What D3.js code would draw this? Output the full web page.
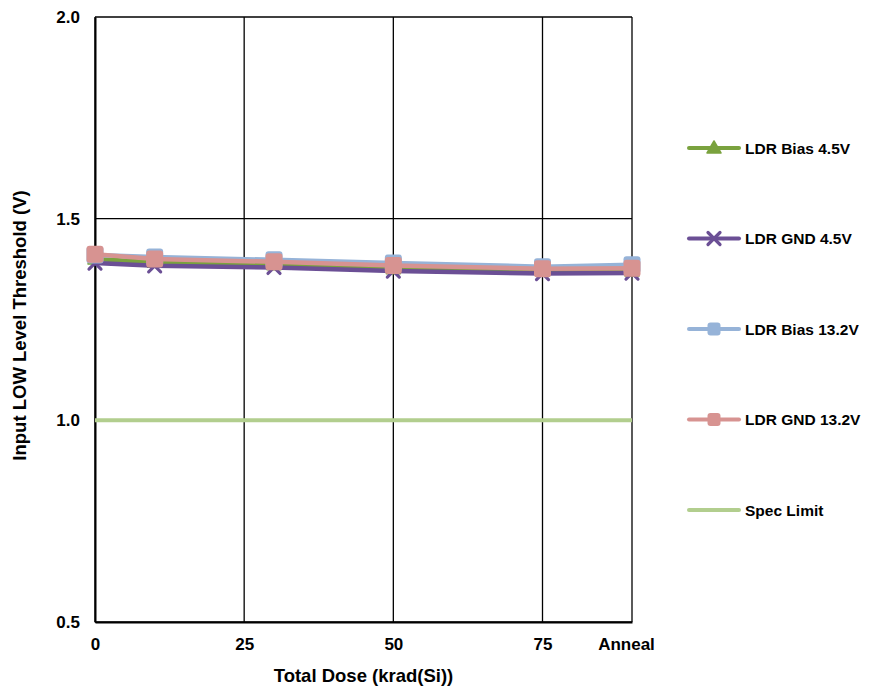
<!DOCTYPE html>
<html><head><meta charset="utf-8">
<script src="https://cdn.jsdelivr.net/npm/d3@7"></script>
<style>body{margin:0;background:#fff}svg{display:block}text{font-family:Arial,"Liberation Sans",sans-serif;font-weight:bold}</style>
</head><body>
<svg id="c" width="888" height="688"></svg>
<script>
const doses = [0, 10, 30, 50, 75, 90];
const xTickValues = [0, 25, 50, 75, 90];
const xTickLabels = ["0", "25", "50", "75", "Anneal"];
const yTickValues = [0.5, 1.0, 1.5, 2.0];
const biasLow45 = [1.400, 1.392, 1.386, 1.376, 1.370, 1.370];
const gndLow45 = [1.390, 1.383, 1.379, 1.370, 1.364, 1.365];
const biasLow132 = [1.410, 1.405, 1.398, 1.390, 1.381, 1.386];
const gndLow132 = [1.412, 1.400, 1.393, 1.384, 1.376, 1.377];
const specLimit = [1.0, 1.0];
const specX = [0, 90];

const series = [
  {name: "LDR Bias 4.5V", values: biasLow45, color: "#7aa23e", marker: "tri"},
  {name: "LDR GND 4.5V", values: gndLow45, color: "#6b4f95", marker: "x"},
  {name: "LDR Bias 13.2V", values: biasLow132, color: "#96b3d8", marker: "sq"},
  {name: "LDR GND 13.2V", values: gndLow132, color: "#d79391", marker: "sq"}
];
const specColor = "#b2ce8e";

const svg = d3.select("#c");
const L = 95, R = 632, T = 17, B = 622;
const x = d3.scaleLinear().domain([0, 90]).range([L, R]);
const y = d3.scaleLinear().domain([0.5, 2.0]).range([B, T]);

// gridlines
svg.append("g").selectAll("line").data(yTickValues).join("line")
  .attr("x1", L).attr("x2", R).attr("y1", d => y(d)).attr("y2", d => y(d))
  .attr("stroke", "#000").attr("stroke-width", 1.3);
svg.append("g").selectAll("line").data(xTickValues).join("line")
  .attr("x1", d => x(d)).attr("x2", d => x(d)).attr("y1", T).attr("y2", B)
  .attr("stroke", "#000").attr("stroke-width", 1.3);

// axes
const yAxis = d3.axisLeft(y).tickValues(yTickValues).tickFormat(d3.format(".1f")).tickSize(0).tickPadding(15);
const gy = svg.append("g").attr("transform", `translate(${L},0)`).call(yAxis);
gy.select(".domain").attr("stroke", "#000").attr("stroke-width", 2);
gy.selectAll("text").attr("font-size", 17).attr("fill", "#000").style("font-weight", "bold");

const xAxis = d3.axisBottom(x).tickValues(xTickValues).tickFormat((d, i) => xTickLabels[i]).tickSize(0).tickPadding(16);
const gx = svg.append("g").attr("transform", `translate(0,${B})`).call(xAxis);
gx.select(".domain").attr("stroke", "#000").attr("stroke-width", 2);
gx.selectAll("text").attr("font-size", 17).attr("fill", "#000").style("font-weight", "bold")
  .attr("dx", (d, i) => i === xTickLabels.length - 1 ? -6 : 0);

// axis titles
svg.append("text").attr("x", (L + R) / 2).attr("y", 682).attr("text-anchor", "middle")
  .attr("font-size", 18.5).text("Total Dose (krad(Si))");
svg.append("text").attr("transform", `translate(26,${(T + B) / 2 + 6}) rotate(-90)`).attr("text-anchor", "middle")
  .attr("font-size", 18.5).text("Input LOW Level Threshold (V)");

// spec limit
svg.append("path").datum(specX.map((d, i) => [d, specLimit[i]]))
  .attr("d", d3.line().x(d => x(d[0])).y(d => y(d[1])))
  .attr("fill", "none").attr("stroke", specColor).attr("stroke-width", 4);

function drawMarker(g, type, color, cx, cy, s) {
  if (type === "tri") {
    g.append("path").attr("d", `M${cx},${cy - 7}L${cx + 7},${cy + 5}L${cx - 7},${cy + 5}Z`)
      .attr("fill", color).attr("stroke", color).attr("stroke-width", 1.5).attr("stroke-linejoin", "round");
  } else if (type === "x") {
    g.append("path").attr("d", `M${cx - 6},${cy - 6}L${cx + 6},${cy + 6}M${cx - 6},${cy + 6}L${cx + 6},${cy - 6}`)
      .attr("stroke", color).attr("stroke-width", 3.2).attr("stroke-linecap", "round");
  } else {
    g.append("rect").attr("x", cx - s / 2).attr("y", cy - s / 2).attr("width", s).attr("height", s)
      .attr("rx", 3).attr("fill", color);
  }
}

const line = d3.line().x((d, i) => x(doses[i])).y(d => y(d));
series.forEach(s => {
  const g = svg.append("g");
  g.append("path").datum(s.values).attr("d", line).attr("fill", "none")
    .attr("stroke", s.color).attr("stroke-width", 4.5).attr("stroke-linejoin", "round");
  s.values.forEach((v, i) => drawMarker(g, s.marker, s.color, x(doses[i]), y(v), 17));
});

// legend
const legendItems = series.map(s => ({name: s.name, color: s.color, marker: s.marker}))
  .concat([{name: "Spec Limit", color: specColor, marker: null}]);
const lg = svg.append("g");
legendItems.forEach((it, i) => {
  const ly = 148 + i * 90.5;
  const g = lg.append("g");
  g.append("line").attr("x1", 689).attr("x2", 739).attr("y1", ly).attr("y2", ly)
    .attr("stroke", it.color).attr("stroke-width", 4).attr("stroke-linecap", "round");
  if (it.marker) drawMarker(g, it.marker, it.color, 714, ly, 13);
  g.append("text").attr("x", 745).attr("y", ly + 5.5).attr("font-size", 15.5).text(it.name);
});
</script>
</body></html>
